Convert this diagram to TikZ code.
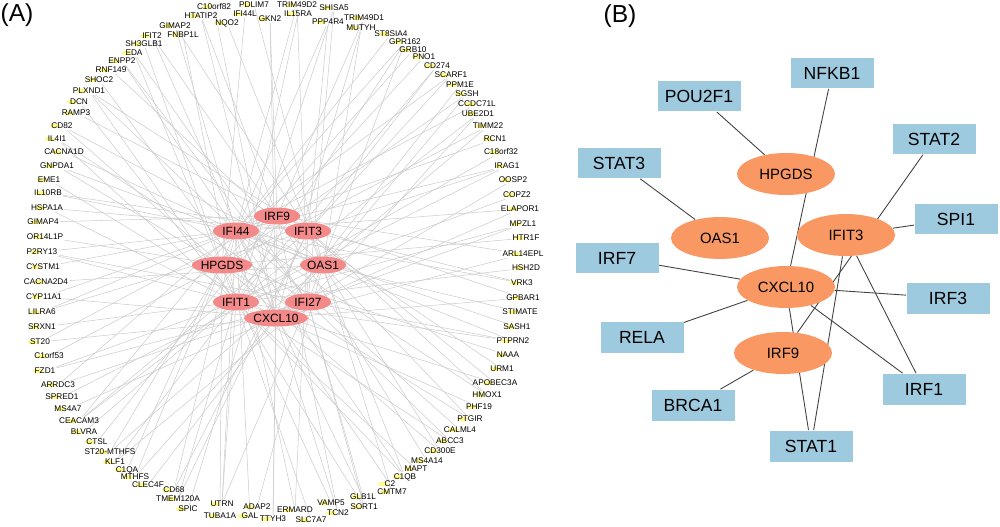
\documentclass[tikz,border=0pt]{standalone}
\usepackage{fontspec}
\setmainfont{Liberation Sans}
\usetikzlibrary{shapes.geometric,backgrounds}
\definecolor{hubred}{RGB}{244,137,137}
\definecolor{tfblue}{RGB}{158,202,224}
\definecolor{coreorange}{RGB}{250,152,100}
\begin{document}
\begin{tikzpicture}[
    x=0.02cm, y=-0.02cm,
    gene/.style={font=\fontsize{4.7}{5}\selectfont, inner sep=0.5pt},
    genedot/.style={ellipse, fill=yellow!45, minimum width=0.22cm, minimum height=0.09cm, inner sep=0pt},
    hub/.style={ellipse, fill=hubred, minimum width=0.92cm, minimum height=0.34cm, inner sep=0pt, font=\fontsize{6.8}{7}\selectfont},
    link/.style={gray!40, line width=0.3pt},
    tfbox/.style={rectangle, fill=tfblue, minimum width=1.66cm, minimum height=0.62cm, font=\fontsize{10}{12}\selectfont},
    core/.style={ellipse, fill=coreorange, minimum width=1.96cm, minimum height=0.84cm, inner sep=0pt, font=\fontsize{8.5}{10}\selectfont},
    wire/.style={black!75, line width=0.5pt}]
  \useasboundingbox (0,0) rectangle (1000,527);

  \node (pa) at (17,15) {\fontsize{14}{16}\selectfont (A)};
  \node (pb) at (620,16) {\fontsize{14}{16}\selectfont (B)};

  % (A) hubs and their targets
  \foreach \hx/\hy/\hn [count=\j] in {277/216/IRF9, 236/231/IFI44, 308/231/IFIT3,
      222/265/HPGDS, 323/265/OAS1, 236/302/IFIT1, 308/302/IFI27, 276/318/CXCL10}
    \node[hub] (h\j) at (\hx,\hy) {\hn};

  \foreach \gx/\gy/\gn [count=\i] in {
      214/7/C10orf82, 254/5/PDLIM7, 297/5/TRIM49D2, 334/8/SHISA5, 245/14/IFI44L,
      270/19/GKN2, 298/14/IL15RA, 328/22/PPP4R4, 364/18/TRIM49D1, 361/28/MUTYH,
      391/34/ST8SIA4, 405/42/GPR162, 413/50/GRB10, 424/57/PNO1, 437/66/CD274,
      451/75/SCARF1, 460/85/PPM1E, 467/94/SGSH, 477/104/CCDC71L, 478/114/UBE2D1,
      488/126/TIMM22, 495/139/RCN1, 501/152/C18orf32, 507/166/IRAG1, 513/180/OOSP2,
      517/195/COPZ2, 520/209/ELAPOR1, 523/224/MPZL1, 526/238/HTR1F, 523/254/ARL14EPL,
      526/268/HSH2D, 522/283/VRK3, 523/298/GPBAR1, 520/312/STIMATE, 517/327/SASH1,
      513/341/PTPRN2, 508/355/NAAA, 502/369/URM1, 495/383/APOBEC3A, 487/395/HMOX1,
      479/407/PHF19, 470/419/PTGIR, 460/430/CALML4, 450/441/ABCC3, 440/451/CD300E,
      427/461/MS4A14, 416/469/MAPT, 405/477/C1QB, 390/484/C2, 392/492/CMTM7,
      363/497/GLB1L, 364/507/SORT1, 331/503/VAMP5, 338/513/TCN2, 311/520/SLC7A7,
      295/510/ERMARD, 273/519/TTYH3, 257/507/ADAP2, 250/516/GAL, 222/504/UTRN,
      220/516/TUBA1A, 188/509/SPIC, 178/499/TMEM120A, 174/490/CD68, 148/485/CLEC4F,
      135/477/MTHFS, 127/470/C1QA, 115/462/KLF1, 110/452/ST20-MTHFS, 97/442/CTSL,
      84/432/BLVRA, 79/421/CEACAM3, 68/409/MS4A7, 62/397/SPRED1, 58/385/ARRDC3,
      45/371/FZD1, 49/356/C1orf53, 40/342/ST20, 42/327/SRXN1, 42/312/LILRA6,
      44/297/CYP11A1, 46/282/CACNA2D4, 43/267/CYSTM1, 42/252/P2RY13, 45/237/OR14L1P,
      43/222/GIMAP4, 47/208/HSPA1A, 48/193/IL10RB, 49/180/EME1, 57/166/GNPDA1,
      64/152/CACNA1D, 57/139/IL4I1, 62/126/CD82, 76/113/RAMP3, 79/102/DCN,
      89/91/PLXND1, 99/80/SHOC2, 111/70/RNF149, 122/61/ENPP2, 134/53/EDA,
      144/44/SH3GLB1, 152/36/IFIT2, 183/35/FNBP1L, 175/26/GIMAP2, 201/16/HTATIP2,
      227/23/NQO2}{
    \node[genedot] (d\i) at (\gx-7,\gy) {};
    \node[gene] (g\i) at (\gx,\gy) {\gn};
  }

  \begin{scope}[on background layer]
    \foreach \i in {1,...,106}{
      \pgfmathtruncatemacro\ha{mod(5*\i+2,8)+1}
      \draw[link] (g\i) -- (h\ha);
    }
    \foreach \i in {3,6,...,105}{
      \pgfmathtruncatemacro\hb{mod(3*\i+5,8)+1}
      \draw[link] (g\i) -- (h\hb);
    }
    \foreach \i in {4,8,...,104}{
      \pgfmathtruncatemacro\hc{mod(7*\i+1,8)+1}
      \draw[link] (g\i) -- (h\hc);
    }
  \end{scope}

  % (B) hub genes and transcription factors
  \node[tfbox] (nfkb1) at (832,73) {NFKB1};
  \node[tfbox] (pou2f1) at (699,96) {POU2F1};
  \node[tfbox] (stat2) at (934,139) {STAT2};
  \node[tfbox] (stat3) at (619,163) {STAT3};
  \node[tfbox] (spi1) at (956,219) {SPI1};
  \node[tfbox] (irf7) at (617,258) {IRF7};
  \node[tfbox] (irf3) at (948,298) {IRF3};
  \node[tfbox] (rela) at (642,337) {RELA};
  \node[tfbox] (irf1) at (924,389) {IRF1};
  \node[tfbox] (brca1) at (693,405) {BRCA1};
  \node[tfbox] (stat1) at (811,446) {STAT1};
  \node[core] (bhpgds) at (786,174) {HPGDS};
  \node[core] (boas1) at (720,238) {OAS1};
  \node[core] (bifit3) at (846,235) {IFIT3};
  \node[core] (bcxcl10) at (786,287) {CXCL10};
  \node[core] (birf9) at (783,353) {IRF9};

  \begin{scope}[on background layer]
    \foreach \a/\b in {pou2f1/bhpgds, nfkb1/bcxcl10, stat3/boas1, stat2/birf9,
        spi1/bifit3, irf7/bcxcl10, bcxcl10/irf3, rela/bcxcl10, bcxcl10/irf1,
        bcxcl10/stat1, bifit3/stat1, bifit3/irf1, birf9/brca1}
      \draw[wire] (\a) -- (\b);
  \end{scope}
\end{tikzpicture}
\end{document}
